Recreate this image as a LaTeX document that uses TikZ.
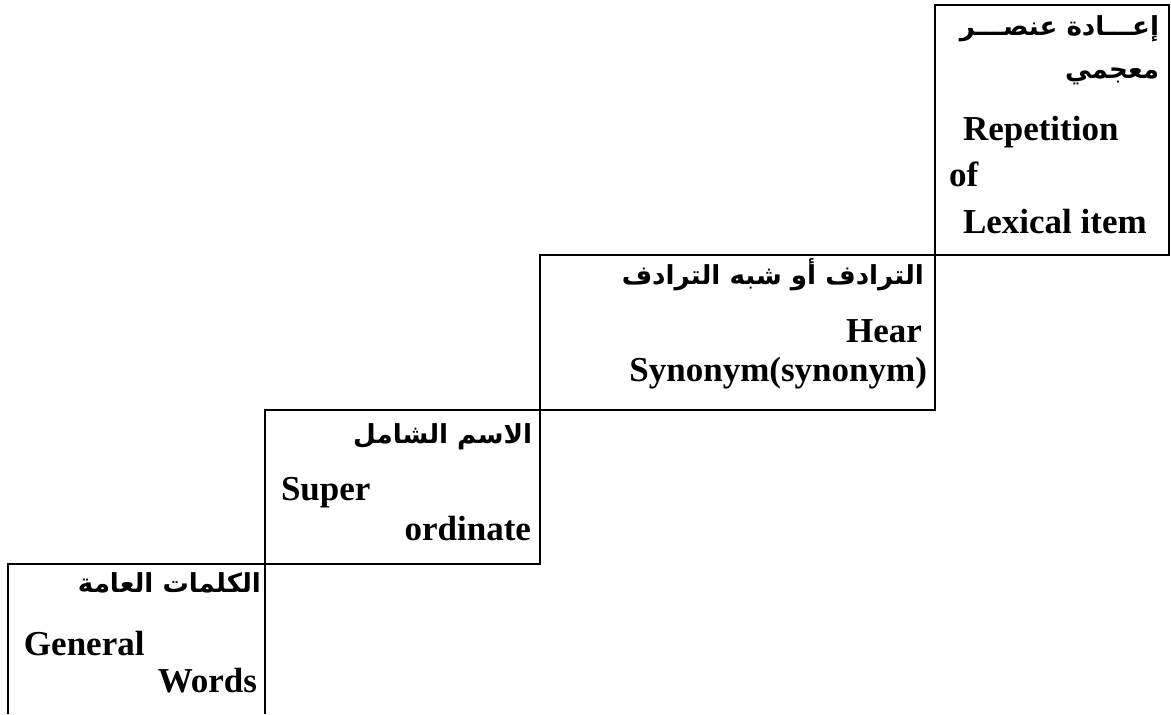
\documentclass[tikz,border=0pt]{standalone}
\usepackage{fontspec}
\setmainfont{Liberation Serif}
\newfontfamily\arabicfont[Script=Arabic]{DejaVu Sans}
\TeXXeTstate=1

\begin{document}
\begin{tikzpicture}[x=0.42pt, y=-0.42pt, line width=0.84pt,
  en/.style={inner sep=0pt, font=\fontsize{14.7}{19}\selectfont\bfseries},
  ar/.style={inner sep=0pt, font=\fontsize{11}{15}\arabicfont\bfseries}]

  % Canvas (pixel grid of the page, y pointing down)
  \useasboundingbox (0,0) rectangle (1171,714);

  % Steps, from the top one down
  \draw (935,5) rectangle (1169,255);
  \draw (540,255) rectangle (935,410);
  \draw (265,410) rectangle (540,564);
  \draw (8,714) -- (8,564) -- (265,564) -- (265,714);

  % Step 4: repetition
  \node[ar, anchor=base east] (rep-ar1) at (1160,35) {\beginR إعـــادة عنصـــر\endR};
  \node[ar, anchor=base east] (rep-ar2) at (1160,78) {\beginR معجمي\endR};
  \node[en, anchor=base west] (rep-en1) at (962,140) {Repetition};
  \node[en, anchor=base west] (rep-en2) at (948,186) {of};
  \node[en, anchor=base west] (rep-en3) at (962,233) {Lexical item};

  % Step 3: synonym
  \node[ar, anchor=base east] (syn-ar) at (925,284) {\beginR الترادف أو شبه الترادف\endR};
  \node[en, anchor=base east] (syn-en1) at (923,342) {Hear};
  \node[en, anchor=base east] (syn-en2) at (928,381) {Synonym(synonym)};

  % Step 2: superordinate
  \node[ar, anchor=base east] (sup-ar) at (533,443) {\beginR الاسم الشامل\endR};
  \node[en, anchor=base west] (sup-en1) at (280,500) {Super};
  \node[en, anchor=base east] (sup-en2) at (532,540) {ordinate};

  % Step 1: general words
  \node[ar, anchor=base east] (gen-ar) at (262,592) {\beginR الكلمات العامة\endR};
  \node[en, anchor=base west] (gen-en1) at (23,655) {General};
  \node[en, anchor=base east] (gen-en2) at (258,692) {Words};

\end{tikzpicture}
\end{document}
